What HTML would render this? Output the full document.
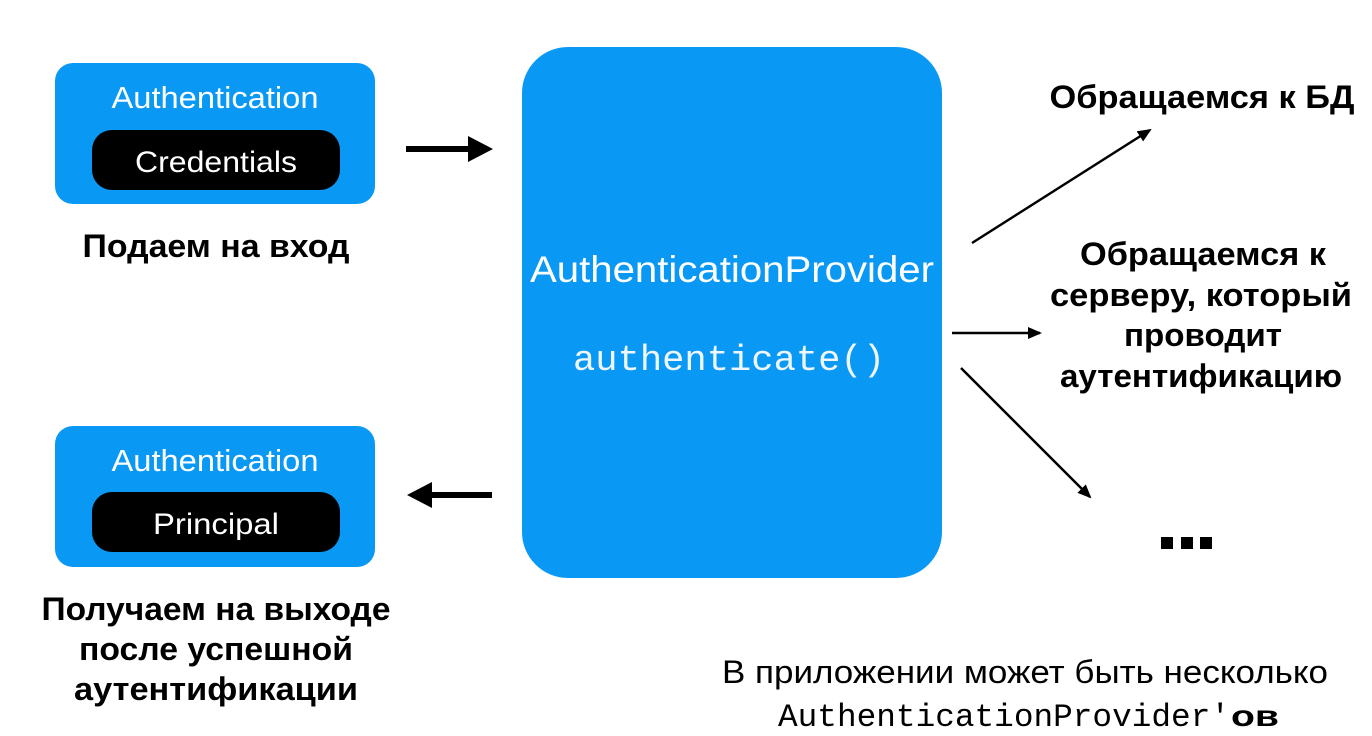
<!DOCTYPE html>
<html><head><meta charset="utf-8"><style>
html,body{margin:0;padding:0;background:#fff;}
svg{display:block;}
</style></head><body>
<svg width="1372" height="736" viewBox="0 0 1372 736" xmlns="http://www.w3.org/2000/svg">
<defs>
<marker id="h" markerWidth="14" markerHeight="12" refX="12" refY="6" orient="auto" markerUnits="userSpaceOnUse"><path d="M0,0 L14,6 L0,12 Z" fill="#000"/></marker>
</defs>
<g font-family="Liberation Sans, sans-serif">
<rect x="55" y="63" width="320" height="141" rx="18" fill="#0a98f5"/>
<rect x="92" y="130" width="248" height="60" rx="20" fill="#000"/>
<text x="215" y="108" font-size="31" fill="#fff" text-anchor="middle" textLength="207" lengthAdjust="spacingAndGlyphs">Authentication</text>
<text x="216" y="172" font-size="30" fill="#fff" text-anchor="middle" textLength="162" lengthAdjust="spacingAndGlyphs">Credentials</text>
<text x="216" y="257" font-size="32" font-weight="bold" text-anchor="middle" textLength="267" lengthAdjust="spacingAndGlyphs">Подаем на вход</text>

<rect x="55" y="426" width="320" height="141" rx="18" fill="#0a98f5"/>
<rect x="92" y="492" width="248" height="60" rx="20" fill="#000"/>
<text x="215" y="471" font-size="31" fill="#fff" text-anchor="middle" textLength="207" lengthAdjust="spacingAndGlyphs">Authentication</text>
<text x="216" y="534" font-size="30" fill="#fff" text-anchor="middle" textLength="126" lengthAdjust="spacingAndGlyphs">Principal</text>
<text x="216" y="620" font-size="32" font-weight="bold" text-anchor="middle" textLength="349" lengthAdjust="spacingAndGlyphs">Получаем на выходе</text>
<text x="216" y="660" font-size="32" font-weight="bold" text-anchor="middle" textLength="274" lengthAdjust="spacingAndGlyphs">после успешной</text>
<text x="216" y="700" font-size="32" font-weight="bold" text-anchor="middle" textLength="284" lengthAdjust="spacingAndGlyphs">аутентификации</text>

<rect x="522" y="47" width="420" height="531" rx="46" fill="#0a98f5"/>
<text x="732" y="282" font-size="37" fill="#fff" text-anchor="middle" textLength="404" lengthAdjust="spacingAndGlyphs">AuthenticationProvider</text>
<text x="729" y="370" font-size="36" fill="#eef6ff" font-family="Liberation Mono, monospace" text-anchor="middle" textLength="312" lengthAdjust="spacingAndGlyphs">authenticate()</text>

<line x1="406" y1="149" x2="472" y2="149" stroke="#000" stroke-width="6"/>
<path d="M468,136 L493,149 L468,162 Z" fill="#000"/>
<line x1="492" y1="495" x2="428" y2="495" stroke="#000" stroke-width="6"/>
<path d="M432,482 L407,495 L432,508 Z" fill="#000"/>

<line x1="972" y1="243" x2="1150" y2="130" stroke="#000" stroke-width="2.5" marker-end="url(#h)"/>
<line x1="952" y1="333" x2="1040" y2="333" stroke="#000" stroke-width="2.5" marker-end="url(#h)"/>
<line x1="961" y1="368" x2="1090" y2="497" stroke="#000" stroke-width="2.5" marker-end="url(#h)"/>

<text x="1202" y="108" font-size="32" font-weight="bold" text-anchor="middle" textLength="305" lengthAdjust="spacingAndGlyphs">Обращаемся к БД</text>
<text x="1203" y="265" font-size="32" font-weight="bold" text-anchor="middle" textLength="246" lengthAdjust="spacingAndGlyphs">Обращаемся к</text>
<text x="1201" y="306" font-size="32" font-weight="bold" text-anchor="middle" textLength="302" lengthAdjust="spacingAndGlyphs">серверу, который</text>
<text x="1203" y="346" font-size="32" font-weight="bold" text-anchor="middle" textLength="158" lengthAdjust="spacingAndGlyphs">проводит</text>
<text x="1201" y="387" font-size="32" font-weight="bold" text-anchor="middle" textLength="282" lengthAdjust="spacingAndGlyphs">аутентификацию</text>

<rect x="1161" y="537" width="12" height="12" fill="#000"/>
<rect x="1181" y="537" width="12" height="12" fill="#000"/>
<rect x="1200" y="537" width="12" height="12" fill="#000"/>

<text x="722" y="683" font-size="32" textLength="606" lengthAdjust="spacingAndGlyphs">В приложении может быть несколько</text>
<text x="778" y="726" font-size="32" font-family="Liberation Mono, monospace" textLength="452" lengthAdjust="spacingAndGlyphs">AuthenticationProvider'</text>
<text x="1231" y="726" font-size="30" font-weight="bold" textLength="48" lengthAdjust="spacingAndGlyphs">ов</text>
</g>
</svg>
</body></html>
